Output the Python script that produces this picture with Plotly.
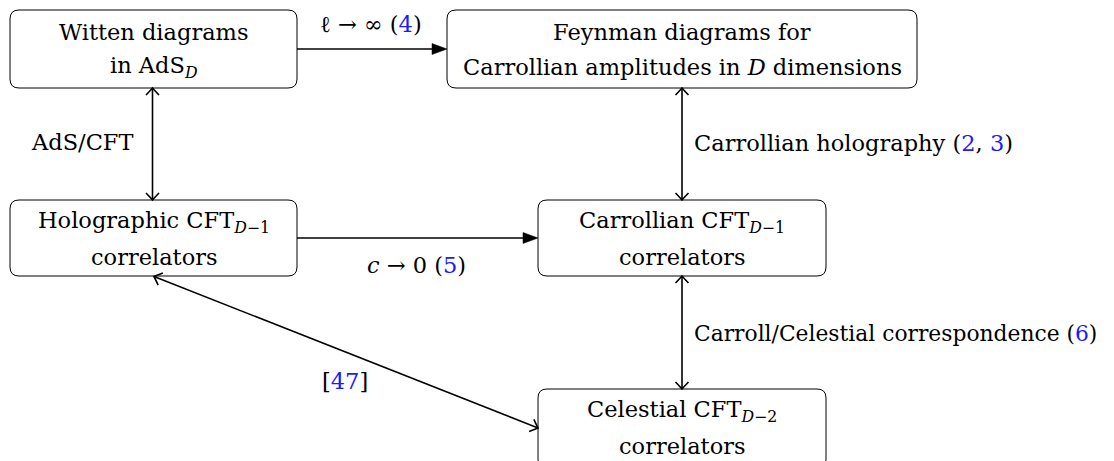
import plotly.graph_objects as go

W, H = 1114, 461
OFF = 8  # page body margin
FONT = "DejaVu Serif"
FS = 22.5
BLUE = "#1a1aff"


def blue(t, fs=FS):
    return "<span style='color:%s;font-size:%spx'>%s</span>" % (BLUE, fs, t)


# ---- node content ----
node_names = ["witten", "feynman", "holo", "carr", "cel"]
node_line1 = ["Witten diagrams", "Feynman diagrams for",
              "Holographic CFT<sub><i>D</i>−1</sub>", "Carrollian CFT<sub><i>D</i>−1</sub>",
              "Celestial CFT<sub><i>D</i>−2</sub>"]
node_line2 = ["in AdS<sub><i>D</i></sub>", "Carrollian amplitudes in <i>D</i> dimensions",
              "correlators", "correlators", "correlators"]

# ---- node geometry (pixels) ----
node_x0 = [10, 447, 10, 538, 538]
node_x1 = [297, 917, 297, 826, 826]
node_y0 = [10, 10, 200, 200, 389]
node_y1 = [88, 88, 276, 276, 468]
RADIUS = 9

# ---- edges ----
edge_from = ["witten", "witten", "holo", "feynman", "carr", "holo"]
edge_to = ["feynman", "holo", "carr", "carr", "cel", "cel"]
edge_style = ["latex", "both", "latex", "both", "both", "both"]
edge_p0 = [(297, 49), (152.5, 88), (297, 238), (682, 88), (682, 276), (154, 276.5)]
edge_p1 = [(447, 49), (152.5, 200), (538, 238), (682, 200), (682, 389), (538, 428)]

# ---- edge labels ----
lab_size = [FS, FS, FS, FS, 21.8, FS]
lab_text = ["ℓ → ∞ (" + blue("4") + ")",
            "AdS/CFT",
            "<i>c</i> → 0 (" + blue("5") + ")",
            "Carrollian holography (" + blue("2") + ", " + blue("3") + ")",
            "Carroll/Celestial correspondence (" + blue("6", 21.8) + ")",
            "[" + blue("47") + "]"]
lab_x = [371, 82, 416, 692, 692, 345]
lab_y = [24, 142, 265, 143, 333, 381]
lab_anchor = ["center", "center", "center", "left", "left", "center"]

fig = go.Figure()
shapes = []
annotations = []


def rounded(x0, y0, x1, y1, r):
    return (f"M {x0+r},{y0} L {x1-r},{y0} Q {x1},{y0} {x1},{y0+r} "
            f"L {x1},{y1-r} Q {x1},{y1} {x1-r},{y1} L {x0+r},{y1} "
            f"Q {x0},{y1} {x0},{y1-r} L {x0},{y0+r} Q {x0},{y0} {x0+r},{y0} Z")


for i, n in enumerate(node_names):
    shapes.append(dict(type="path", xref="x", yref="y",
                       path=rounded(node_x0[i], node_y0[i], node_x1[i], node_y1[i], RADIUS),
                       line=dict(color="black", width=1), fillcolor="white", layer="above"))
    cx = (node_x0[i] + node_x1[i]) / 2
    top = node_y0[i]
    for txt, dy in [(node_line1[i], 22), (node_line2[i], 57)]:
        annotations.append(dict(x=cx, y=top + dy, xref="x", yref="y", text=txt,
                                showarrow=False, xanchor="center", yanchor="middle",
                                font=dict(family=FONT, size=FS, color="black")))


def unit(p0, p1):
    dx, dy = p1[0] - p0[0], p1[1] - p0[1]
    L = (dx * dx + dy * dy) ** 0.5
    return dx / L, dy / L


def open_head(tip, ux, uy):
    back, half = 7.0, 6.5
    px, py = -uy, ux
    bx, by = tip[0] - ux * back, tip[1] - uy * back
    w1 = (bx + px * half, by + py * half)
    w2 = (bx - px * half, by - py * half)
    c1 = (tip[0] - ux * 1.5 + px * 1.2, tip[1] - uy * 1.5 + py * 1.2)
    c2 = (tip[0] - ux * 1.5 - px * 1.2, tip[1] - uy * 1.5 - py * 1.2)
    return (f"M {w1[0]},{w1[1]} Q {c1[0]},{c1[1]} {tip[0]},{tip[1]} "
            f"Q {c2[0]},{c2[1]} {w2[0]},{w2[1]}")


def filled_head(tip, ux, uy):
    length, half = 15, 5.5
    px, py = -uy, ux
    bx, by = tip[0] - ux * length, tip[1] - uy * length
    w1 = (bx + px * half, by + py * half)
    w2 = (bx - px * half, by - py * half)
    return f"M {tip[0]},{tip[1]} L {w1[0]},{w1[1]} L {w2[0]},{w2[1]} Z"


for i in range(len(edge_from)):
    p0, p1 = edge_p0[i], edge_p1[i]
    ux, uy = unit(p0, p1)
    if edge_style[i] == "latex":
        end = (p1[0] - ux * 8, p1[1] - uy * 8)
        shapes.append(dict(type="line", xref="x", yref="y", x0=p0[0], y0=p0[1],
                           x1=end[0], y1=end[1], line=dict(color="black", width=1.6)))
        shapes.append(dict(type="path", xref="x", yref="y", path=filled_head(p1, ux, uy),
                           fillcolor="black", line=dict(color="black", width=0.5)))
    else:
        shapes.append(dict(type="line", xref="x", yref="y", x0=p0[0], y0=p0[1],
                           x1=p1[0], y1=p1[1], line=dict(color="black", width=1.6)))
        shapes.append(dict(type="path", xref="x", yref="y", path=open_head(p1, ux, uy),
                           line=dict(color="black", width=1.6)))
        shapes.append(dict(type="path", xref="x", yref="y", path=open_head(p0, -ux, -uy),
                           line=dict(color="black", width=1.6)))

for i in range(len(lab_text)):
    annotations.append(dict(x=lab_x[i], y=lab_y[i], xref="x", yref="y", text=lab_text[i],
                            showarrow=False, xanchor=lab_anchor[i], yanchor="middle",
                            font=dict(family=FONT, size=lab_size[i], color="black")))

fig.update_layout(
    width=W, height=H, margin=dict(l=0, r=0, t=0, b=0),
    paper_bgcolor="white", plot_bgcolor="white",
    xaxis=dict(range=[OFF, W + OFF], visible=False, fixedrange=True),
    yaxis=dict(range=[H + OFF, OFF], visible=False, fixedrange=True),
    shapes=shapes, annotations=annotations, showlegend=False,
)
fig.write_html("out.html")
